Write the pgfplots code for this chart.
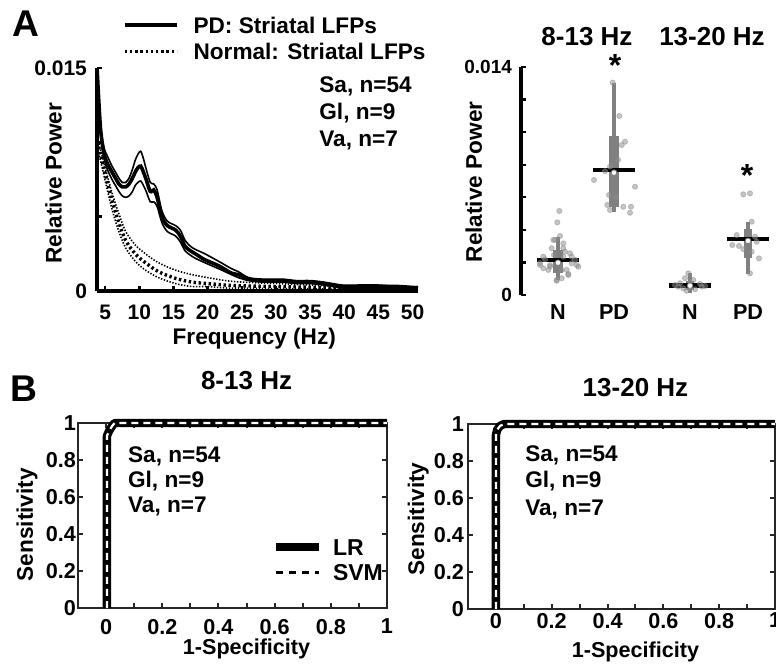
\documentclass[border=0pt]{standalone}
\usepackage{fontspec}
\setmainfont{Liberation Sans}
\usepackage{pgfplots}
\usepackage{pgfplotstable}
\pgfplotsset{compat=1.18}
\newcommand{\fs}[1]{\fontsize{#1}{#1}\selectfont\bfseries}

\pgfplotstableread{
hz mean up lo
3.83 0.0148 0.0150 0.0146
4.3 0.0110 0.0113 0.0107
4.8 0.0093 0.0097 0.0090
5.3 0.0086 0.0091 0.0082
6.0 0.0080 0.0084 0.0075
6.5 0.0076 0.0080 0.0071
7.0 0.0072 0.0076 0.0067
7.5 0.0070 0.0073 0.0064
8.0 0.0070 0.0073 0.0063
8.5 0.0072 0.0076 0.0064
9.0 0.0076 0.0082 0.0067
9.4 0.0080 0.0088 0.0071
9.8 0.0083 0.0092 0.0073
10.2 0.0084 0.0094 0.0074
10.6 0.0080 0.0089 0.0071
11.0 0.0075 0.0082 0.0067
11.6 0.0067 0.0073 0.0060
12.1 0.0068 0.0072 0.0060
12.6 0.0063 0.0068 0.0057
13.3 0.0050 0.0054 0.0046
14.1 0.0044 0.0047 0.0040
15.3 0.0041 0.0044 0.0037
16.0 0.0037 0.0041 0.0033
16.7 0.0030 0.0034 0.0027
17.5 0.0027 0.0030 0.0024
18.2 0.0025 0.0028 0.0022
19.6 0.0021 0.0025 0.0019
21.6 0.0017 0.0020 0.0015
23.5 0.0012 0.0015 0.0011
24.5 0.0011 0.0013 0.0009
26 0.0008 0.0009 0.0007
28 0.0007 0.0008 0.0006
30 0.0007 0.0008 0.0006
31 0.0007 0.0008 0.0006
33 0.0006 0.0007 0.0005
35 0.0006 0.0007 0.0005
37 0.0005 0.0006 0.0004
39.7 0.0003 0.0004 0.0002
42 0.0003 0.0004 0.0002
45 0.0003 0.0004 0.0002
48 0.0003 0.0003 0.0002
50.8 0.0002 0.0003 0.0002
}\pdtab

\pgfplotstableread{
hz mean up lo
3.83 0.0100 0.0103 0.0097
4.3 0.0092 0.0095 0.0088
5.0 0.0079 0.0083 0.0074
6.0 0.0061 0.0066 0.0055
7.0 0.0046 0.0052 0.0040
8.0 0.0034 0.0040 0.0029
9.4 0.0025 0.0031 0.0020
10.9 0.0019 0.0025 0.0014
12.8 0.0013 0.0019 0.0009
15.3 0.00085 0.0014 0.0005
17.7 0.0006 0.0011 0.0003
20 0.0005 0.0009 0.0003
22.6 0.0004 0.0007 0.0002
25 0.00035 0.0006 0.0002
30 0.0003 0.0005 0.00015
35 0.00025 0.0004 0.00015
40 0.0002 0.0003 0.0001
45 0.0002 0.0003 0.0001
50.8 0.00015 0.00025 0.0001
}\nortab

\begin{document}
\begin{tikzpicture}
\useasboundingbox (0,0) rectangle (388pt,332pt);
\node[anchor=base west, inner sep=0pt, font=\fs{18.6}] at (5.85pt,313.6pt) {A};
\node[anchor=base west, inner sep=0pt, font=\fs{18.6}] at (5.2pt,131pt) {B};

% ---------- A: spectra ----------
\begin{axis}[
  at={(48.5pt,186.5pt)}, anchor=south west, scale only axis,
  width=160.5pt, height=111.5pt,
  xmin=3.8, xmax=50.8, ymin=0, ymax=0.015,
  axis lines*=left, axis line style={line width=1.6pt},
  tick align=inside, major tick length=2.6pt, tick style={black, line width=1.2pt},
  xtick={5,10,...,50},
  ytick={0,0.005,0.01,0.015}, yticklabels={0,,,0.015}, scaled y ticks=false,
  /pgf/number format/assume math mode=true,
  tick label style={font=\fs{10.5}},
  xticklabel style={yshift=-3.5pt},
  yticklabel style={xshift=-1.5pt},
  xlabel={Frequency (Hz)}, ylabel={Relative Power},
  label style={font=\fs{11.3}},
  xlabel style={at={(axis description cs:0.49,-0.238)}, anchor=base},
  ylabel style={at={(axis description cs:-0.110,0.484)}, anchor=base},
  legend style={draw=none, fill=none, at={(axis description cs:0.081,1.229)}, anchor=north west,
    inner sep=0pt, outer sep=0pt, row sep=5.15pt, column sep=7.5pt, font=\fs{11.3},
    nodes={inner sep=0pt, outer sep=0pt, text height=8.1pt, text depth=0pt}},
  legend cell align=left,
  legend image code/.code={\draw[#1] (0pt,0pt) -- (26pt,0pt);},
  clip=false,
]
\addlegendimage{black, line width=1.8pt}
\addlegendentry{PD: Striatal LFPs}
\addlegendimage{black, line width=1.6pt, dash pattern=on 1.2pt off 1.4pt}
\addlegendentry{Normal: Striatal LFPs}
\addplot[forget plot, black, line width=0.8pt, dash pattern=on 0.7pt off 0.8pt, smooth] table[x=hz,y=up]{\nortab};
\addplot[forget plot, black, line width=0.8pt, dash pattern=on 0.7pt off 0.8pt, smooth] table[x=hz,y=lo]{\nortab};
\addplot[forget plot, black, line width=1.7pt, dash pattern=on 1.2pt off 1.3pt, smooth] table[x=hz,y=mean]{\nortab};
\addplot[forget plot, black, line width=0.8pt, smooth] table[x=hz,y=up]{\pdtab};
\addplot[forget plot, black, line width=0.8pt, smooth] table[x=hz,y=lo]{\pdtab};
\addplot[forget plot, black, line width=1.8pt, smooth] table[x=hz,y=mean]{\pdtab};
\node[anchor=base west, inner sep=0pt, font=\fs{11.3}] at (axis description cs:0.6916,0.888) {Sa, n=54};
\node[anchor=base west, inner sep=0pt, font=\fs{11.3}] at (axis description cs:0.6916,0.767) {Gl, n=9};
\node[anchor=base west, inner sep=0pt, font=\fs{11.3}] at (axis description cs:0.6916,0.646) {Va, n=7};
\end{axis}

% ---------- A: box plots ----------
\begin{axis}[
  at={(260.5pt,184.5pt)}, anchor=south west, scale only axis,
  width=127.5pt, height=114pt,
  xmin=0, xmax=255, ymin=0, ymax=0.014,
  axis lines*=left, x axis line style={draw=none}, y axis line style={line width=1.6pt},
  tick align=inside, major tick length=2.6pt, ytick style={black, line width=1.2pt}, xtick style={draw=none},
  xtick={37,93,169,227}, xticklabels={N,PD,N,PD},
  ytick={0,0.002,0.004,0.006,0.008,0.010,0.012,0.014}, yticklabels={0,,,,,,,0.014}, scaled y ticks=false,
  /pgf/number format/assume math mode=true,
  xticklabel style={font=\fs{10.8}, yshift=-1.5pt},
  yticklabel style={font=\fs{9.5}, xshift=-1pt},
  ylabel={Relative Power}, ylabel style={font=\fs{11.3}, at={(axis description cs:-0.153,0.496)}, anchor=base},
  clip=false,
]
% whiskers
\addplot[gray, line width=2pt] coordinates {(37,0.00092) (37,0.00358)};
\addplot[gray, line width=2pt] coordinates {(93,0.00512) (93,0.01304)};
\addplot[gray, line width=2pt] coordinates {(169,0.00014) (169,0.00137)};
\addplot[gray, line width=2pt] coordinates {(227,0.00129) (227,0.0045)};
% boxes
\addplot[gray, line width=4.8pt] coordinates {(37,0.00133) (37,0.00276)};
\addplot[gray, line width=4.8pt] coordinates {(93,0.00538) (93,0.00976)};
\addplot[gray, line width=4.2pt] coordinates {(169,0.00031) (169,0.00088)};
\addplot[gray, line width=4.2pt] coordinates {(227,0.00225) (227,0.00405)};
% individual points
\addplot[only marks, mark=*, mark size=1.3pt, color=black!45, opacity=0.5] coordinates {
(38.3,0.00516) (36.3,0.00446) (39,0.00362) (34,0.00338) (42.3,0.00317) (30.7,0.00287)
(44,0.00266) (49,0.00256) (24,0.00219) (19,0.00184) (22.3,0.00164) (27.3,0.00154)
(50.7,0.00195) (57.3,0.00174) (54,0.00215) (45.7,0.00154) (47.3,0.00129) (35.7,0.00088)
(40.7,0.00103) (29,0.00184) (33,0.00246) (42.3,0.00235) (19,0.00196) (29,0.00174)
(55.7,0.00184) (35.7,0.00092) (47.3,0.00123) (32.3,0.00338) (42.3,0.00287) (22.3,0.00235)
(50.7,0.00235) (40.7,0.00154)
};
\addplot[only marks, mark=*, mark size=1.3pt, color=black!45, opacity=0.5] coordinates {
(91.7,0.01304) (98.3,0.01099) (104,0.00941) (100.7,0.00921) (73,0.00706) (114,0.00665)
(86.3,0.00553) (89,0.00522) (102.3,0.00542) (110,0.00542) (109,0.00505) (88,0.00614)
(89,0.00788) (95,0.0060) (97,0.0083) (84,0.0076)
};
\addplot[only marks, mark=*, mark size=1.3pt, color=black!45, opacity=0.5] coordinates {
(167.3,0.00133) (164,0.00103) (172.3,0.00092) (159,0.00072) (179,0.00068) (154,0.00061)
(184,0.00055) (162.3,0.00041) (174,0.00035) (165.7,0.00026) (180.7,0.00051) (157.3,0.00051)
};
\addplot[only marks, mark=*, mark size=1.3pt, color=black!45, opacity=0.5] coordinates {
(222.3,0.00618) (229,0.00624) (230.7,0.0045) (215.7,0.00368) (211.3,0.00307) (218,0.00301)
(235.7,0.00327) (238,0.00225) (229,0.00133) (222.3,0.00282) (230.7,0.00266) (234,0.00358)
};
% medians
\addplot[black, line width=2.4pt] coordinates {(16,0.00215) (58,0.00215)};
\addplot[black, line width=2.4pt] coordinates {(72,0.00768) (114,0.00768)};
\addplot[black, line width=2.4pt] coordinates {(148,0.00057) (190,0.00057)};
\addplot[black, line width=2.4pt] coordinates {(206,0.00344) (248,0.00344)};
% means
\addplot[only marks, mark=*, mark size=1.4pt, mark options={fill=white, draw=gray, line width=0.4pt}] coordinates {
(37,0.00198) (93,0.00751) (169,0.00057) (227,0.00332)};
\node[anchor=base, inner sep=0pt, font=\fs{13}] at (axis cs:66,0.01535) {8-13 Hz};
\node[anchor=base, inner sep=0pt, font=\fs{13}] at (axis cs:191,0.01535) {13-20 Hz};
\node[inner sep=0pt, font=\fs{16}] at (axis cs:94,0.01412) {*};
\node[inner sep=0pt, font=\fs{16}] at (axis cs:226,0.00736) {*};
\end{axis}

% ---------- B: ROC 8-13 ----------
\begin{axis}[
  at={(39pt,28pt)}, anchor=south west, scale only axis, width=154.5pt, height=92.5pt,
  xmin=-0.1, xmax=1, ymin=0, ymax=1,
  axis line style={line width=1.3pt, black!85},
  tick align=inside, major tick length=2.6pt, minor tick length=2.6pt,
  tick style={black!85, line width=1pt},
  xtick={0,0.2,0.4,0.6,0.8,1}, minor xtick={0.1,0.3,0.5,0.7,0.9},
  xticklabels={0,0.2,0.4,0.6,0.8,1},
  ytick={0,0.2,0.4,0.6,0.8,1}, yticklabels={0,0.2,0.4,0.6,0.8,1},
  tick label style={font=\fs{10.8}},
  xticklabel style={yshift=-2pt}, yticklabel style={xshift=2.5pt},
  xlabel={1-Specificity}, xlabel style={font=\fs{10.8}, at={(axis description cs:0.5455,-0.254)}, anchor=base},
  ylabel={Sensitivity}, ylabel style={font=\fs{11.3}, at={(axis description cs:-0.146,0.45)}, anchor=base},
  title={8-13 Hz}, title style={font=\fs{13}, at={(axis description cs:0.5455,1.114)}, anchor=base},
  clip=false,
  legend style={draw=none, fill=none, at={(axis description cs:0.628,0.373)}, anchor=north west,
    inner sep=0pt, outer sep=0pt, row sep=4.4pt, column sep=5pt, font=\fs{11.5},
    nodes={inner sep=0pt, outer sep=0pt, text height=8.2pt, text depth=0pt}},
  legend cell align=left,
  legend image code/.code={\draw[#1] (0pt,0pt) -- (21.5pt,0pt);},
]
\addlegendimage{black, line width=4pt}
\addlegendentry{LR}
\addlegendimage{black, line width=1.8pt, dash pattern=on 3.5pt off 3pt}
\addlegendentry{SVM}
\addplot[forget plot, black, line width=4.2pt, line join=round] coordinates {(0.003,0) (0.003,0.93) (0.01,0.955) (0.02,0.98) (0.03,1) (1,1)};
\addplot[forget plot, white, line width=1.1pt, dash pattern=on 3.5pt off 2.5pt] coordinates {(0.003,0) (0.003,0.93) (0.01,0.955) (0.02,0.98) (0.03,1) (1,1)};
\node[anchor=base west, inner sep=0pt, font=\fs{11.3}] at (axis cs:0.077,0.789) {Sa, n=54};
\node[anchor=base west, inner sep=0pt, font=\fs{11.3}] at (axis cs:0.077,0.654) {Gl, n=9};
\node[anchor=base west, inner sep=0pt, font=\fs{11.3}] at (axis cs:0.077,0.514) {Va, n=7};
\end{axis}

% ---------- B: ROC 13-20 ----------
\begin{axis}[
  at={(234pt,27.5pt)}, anchor=south west, scale only axis, width=153.5pt, height=92.5pt,
  xmin=-0.1, xmax=1, ymin=0, ymax=1,
  axis line style={line width=1.3pt, black!85},
  tick align=inside, major tick length=2.6pt, minor tick length=2.6pt,
  tick style={black!85, line width=1pt},
  xtick={0,0.2,0.4,0.6,0.8,1}, minor xtick={0.1,0.3,0.5,0.7,0.9},
  xticklabels={0,0.2,0.4,0.6,0.8,1},
  ytick={0,0.2,0.4,0.6,0.8,1}, yticklabels={0,0.2,0.4,0.6,0.8,1},
  tick label style={font=\fs{10.8}},
  xticklabel style={yshift=1.5pt}, yticklabel style={xshift=1.5pt},
  xlabel={1-Specificity}, xlabel style={font=\fs{10.8}, at={(axis description cs:0.5455,-0.262)}, anchor=base},
  ylabel={Sensitivity}, ylabel style={font=\fs{11.3}, at={(axis description cs:-0.143,0.486)}, anchor=base},
  title={13-20 Hz}, title style={font=\fs{13}, at={(axis description cs:0.5455,1.086)}, anchor=base},
  clip=false,
]
\addplot[black, line width=4.2pt, line join=round] coordinates {(0,0) (0,0.94) (0.005,0.97) (0.015,0.99) (0.03,1) (1,1)};
\addplot[white, line width=1.1pt, dash pattern=on 3.5pt off 2.5pt] coordinates {(0,0) (0,0.94) (0.005,0.97) (0.015,0.99) (0.03,1) (1,1)};
\node[anchor=base west, inner sep=0pt, font=\fs{11.3}] at (axis cs:0.104,0.795) {Sa, n=54};
\node[anchor=base west, inner sep=0pt, font=\fs{11.3}] at (axis cs:0.104,0.659) {Gl, n=9};
\node[anchor=base west, inner sep=0pt, font=\fs{11.3}] at (axis cs:0.104,0.503) {Va, n=7};
\end{axis}
\end{tikzpicture}
\end{document}
